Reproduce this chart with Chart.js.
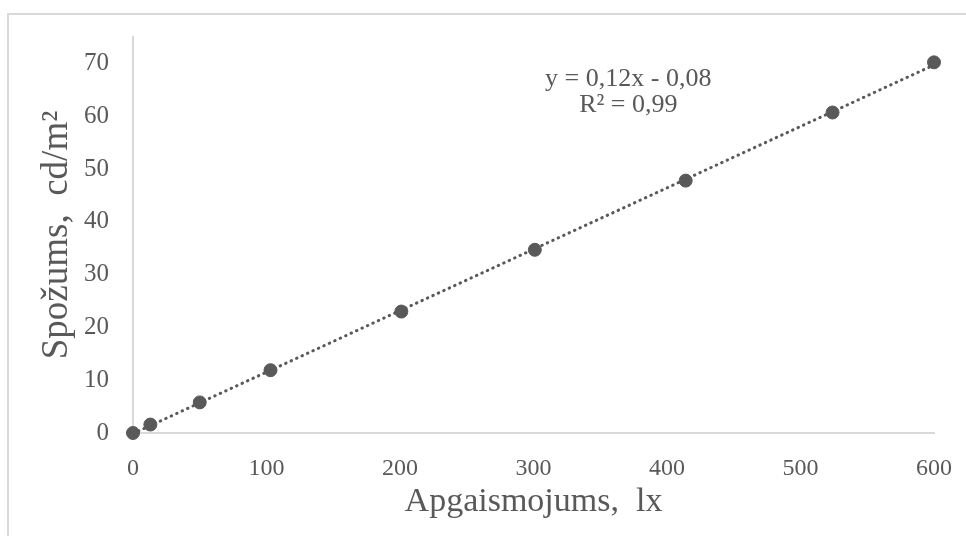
<!DOCTYPE html>
<html>
<head>
<meta charset="utf-8">
<script src="https://cdn.jsdelivr.net/npm/chart.js@4"></script>
<style>
    html, body { margin: 0; padding: 0; background: #fff; }
    .wrap { position: relative; width: 966px; height: 536px; overflow: hidden; }
    .frame {
        position: absolute; left: 7px; top: 13px; width: 1000px; height: 600px;
        border-left: 2px solid #d9d9d9; border-top: 2px solid #d9d9d9;
    }
    canvas { position: absolute; left: 0; top: 0; }
</style>
</head>
<body>
<div class="wrap">
    <div class="frame"></div>
    <canvas id="lumChart" width="966" height="536"></canvas>
</div>
<script>
// --- Data ---
const illuminance = [0, 13, 50, 103, 201, 301, 414, 524, 600];       // lx
const luminance = [0, 1.6, 5.8, 11.9, 23.0, 34.7, 47.8, 60.7, 70.2]; // cd/m2
const xTicks = [0, 100, 200, 300, 400, 500, 600];
const yTicks = [0, 10, 20, 30, 40, 50, 60, 70];
const equationLines = ['y = 0,12x - 0,08', 'R\u00B2 = 0,99'];

const textColor = '#595959';
const markColor = '#595959';
const axisColor = '#d9d9d9';
const fontFamily = "'Liberation Serif', 'Times New Roman', serif";

// Linear trendline fitted to the points
const n = illuminance.length;
const meanX = illuminance.reduce((a, b) => a + b, 0) / n;
const meanY = luminance.reduce((a, b) => a + b, 0) / n;
let sxy = 0, sxx = 0;
illuminance.forEach((x, i) => {
    sxy += (x - meanX) * (luminance[i] - meanY);
    sxx += (x - meanX) * (x - meanX);
});
const slope = sxy / sxx;
const intercept = meanY - slope * meanX;
const xMin = Math.min(...illuminance);
const xMax = Math.max(...illuminance);
const trendPoints = [xMin, xMax].map(x => ({ x: x, y: slope * x + intercept }));

// Equation label drawn at a data position
const equationLabel = {
    id: 'equationLabel',
    afterDatasetsDraw(chart) {
        const { ctx, scales: { x, y } } = chart;
        const px = x.getPixelForValue(371);
        const py = y.getPixelForValue(67.1);
        ctx.save();
        ctx.fillStyle = textColor;
        ctx.font = '26px ' + fontFamily;
        ctx.textAlign = 'center';
        ctx.textBaseline = 'middle';
        equationLines.forEach((line, i) => ctx.fillText(line, px, py + i * 26));
        ctx.restore();
    }
};

new Chart(document.getElementById('lumChart'), {
    type: 'scatter',
    data: {
        datasets: [
            {
                label: 'Spožums',
                data: illuminance.map((x, i) => ({ x: x, y: luminance[i] })),
                backgroundColor: markColor,
                borderColor: markColor,
                pointRadius: 6.5,
                pointHoverRadius: 6.5,
                clip: false,
                order: 1
            },
            {
                label: 'Trend',
                type: 'line',
                data: trendPoints,
                borderColor: markColor,
                borderWidth: 3,
                borderDash: [0.5, 5.5],
                borderCapStyle: 'round',
                pointRadius: 0,
                fill: false,
                clip: false,
                order: 2
            }
        ]
    },
    options: {
        responsive: false,
        animation: false,
        layout: { padding: { left: 0, right: 32, top: 37, bottom: 0 } },
        plugins: {
            legend: { display: false },
            tooltip: { enabled: false }
        },
        scales: {
            x: {
                type: 'linear',
                min: 0,
                max: 600,
                afterFit: (scale) => { scale.height = 103; },
                afterBuildTicks: (scale) => { scale.ticks = xTicks.map(v => ({ value: v })); },
                grid: { display: false },
                border: { display: true, color: axisColor, width: 2 },
                ticks: { color: textColor, padding: 13, font: { family: fontFamily, size: 24 } },
                title: {
                    display: true,
                    text: 'Apgaismojums,  lx',
                    color: textColor,
                    font: { family: fontFamily, size: 34 },
                    padding: { top: 0, bottom: 14 }
                }
            },
            y: {
                type: 'linear',
                min: 0,
                max: 75,
                afterFit: (scale) => { scale.width = 133; },
                afterBuildTicks: (scale) => { scale.ticks = yTicks.map(v => ({ value: v })); },
                grid: { display: false },
                border: { display: true, color: axisColor, width: 2 },
                ticks: { color: textColor, padding: 16, font: { family: fontFamily, size: 25 } },
                title: {
                    display: true,
                    text: 'Spožums,  cd/m\u00B2',
                    color: textColor,
                    font: { family: fontFamily, size: 37 },
                    padding: { top: 35, bottom: 0 }
                }
            }
        }
    },
    plugins: [equationLabel]
});
</script>
</body>
</html>
